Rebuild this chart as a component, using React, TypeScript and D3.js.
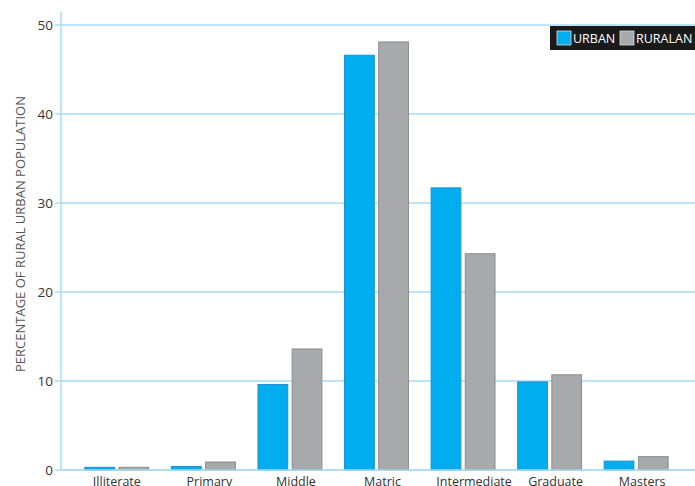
import React from "react";
import * as d3 from "d3";

const categories = ["Illiterate", "Primary", "Middle", "Matric", "Intermediate", "Graduate", "Masters"];
const urbanValues = [0.3, 0.4, 9.6, 46.6, 31.7, 9.9, 1.0];
const ruralValues = [0.3, 0.9, 13.6, 48.1, 24.3, 10.7, 1.5];
const seriesNames = ["URBAN", "RURALAN"];
const yTicks = [0, 10, 20, 30, 40, 50];

const W = 695;
const H = 486;
const FONT = "'Open Sans', 'DejaVu Sans', sans-serif";

export default function App() {
  const x0 = d3.scaleBand<string>().domain(categories).range([61, 692]).paddingInner(0.25).paddingOuter(0.27);
  const x1 = d3.scaleBand<string>().domain(seriesNames).range([0, x0.bandwidth()]).paddingInner(0.1);
  const y = d3.scaleLinear().domain([0, 50]).range([470, 25]);
  const colors = ["#00aeef", "#a7a9ac"];
  const strokes = ["#1f8fd0", "#8c8c8f"];
  const series = [urbanValues, ruralValues];

  return (
    <svg width={W} height={H} style={{ position: "absolute", left: 0, top: 0, background: "#fff" }}>
      {yTicks.map((t) => (
        <g key={t}>
          <line x1={55} x2={W} y1={y(t)} y2={y(t)} stroke="#a9dcf5" strokeWidth={1.5} />
          <text x={53} y={y(t) + 5} textAnchor="end" fontFamily={FONT} fontSize={13.5} fill="#333">
            {t}
          </text>
        </g>
      ))}
      <line x1={61} x2={61} y1={12} y2={470} stroke="#a9dcf5" strokeWidth={1.5} />
      <text
        transform={`translate(25, 234) rotate(-90)`}
        textAnchor="middle"
        fontFamily={FONT}
        fontSize={13}
        fill="#555"
        textLength={276}
        lengthAdjust="spacingAndGlyphs"
      >
        PERCENTAGE OF RURAL URBAN POPULATION
      </text>
      {categories.map((c, i) => (
        <g key={c} transform={`translate(${x0(c)},0)`}>
          {series.map((vals, s) => (
            <rect
              key={s}
              x={x1(seriesNames[s])! + 0.5}
              y={y(vals[i])}
              width={x1.bandwidth() - 1}
              height={470 - y(vals[i])}
              fill={colors[s]}
              stroke={strokes[s]}
              strokeWidth={1}
            />
          ))}
          <text
            x={x0.bandwidth() / 2 + (i === 0 ? 0 : i === 4 ? 11 : 6)}
            y={486}
            textAnchor="middle"
            fontFamily={FONT}
            fontSize={12.5}
            fill="#333"
          >
            {c}
          </text>
        </g>
      ))}
      <line x1={61} x2={W} y1={470} y2={470} stroke="#a9dcf5" strokeWidth={1.5} />
      <g>
        <rect x={550} y={26} width={145} height={24} fill="#1a1a1a" />
        <rect x={557} y={31} width={14} height={14} fill={colors[0]} stroke="#ddd" strokeWidth={0.8} />
        <text x={573} y={43} fontFamily={FONT} fontSize={12.5} fill="#fff">
          {seriesNames[0]}
        </text>
        <rect x={620} y={31} width={14} height={14} fill={colors[1]} stroke="#ddd" strokeWidth={0.8} />
        <text x={636} y={43} fontFamily={FONT} fontSize={12.5} fill="#fff">
          {seriesNames[1]}
        </text>
      </g>
    </svg>
  );
}
